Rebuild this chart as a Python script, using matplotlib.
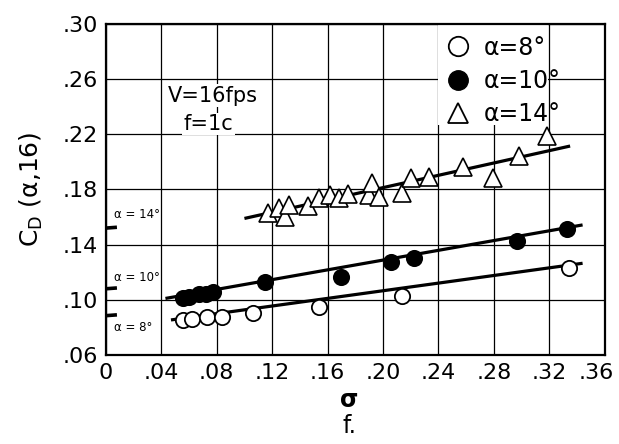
"""C_D(alpha,16) vs sigma_f at V=16 fps, f=1c -- redrawn from the scanned figure."""

import matplotlib
matplotlib.use("Agg")
import matplotlib.pyplot as plt
from matplotlib.lines import Line2D
from matplotlib.patches import Rectangle
from matplotlib.transforms import blended_transform_factory, ScaledTranslation

# --- data ---
sig_8 = [0.056, 0.062, 0.073, 0.084, 0.106, 0.154, 0.214, 0.334]
cd_8 = [0.0854, 0.0859, 0.0877, 0.0873, 0.0902, 0.0946, 0.1028, 0.1233]

sig_10 = [0.056, 0.060, 0.067, 0.072, 0.077, 0.115, 0.170, 0.206, 0.222, 0.297, 0.333]
cd_10 = [0.1015, 0.1020, 0.1040, 0.1045, 0.1058, 0.1132, 0.1168, 0.1277, 0.1300, 0.1429, 0.1512]

sig_14 = [0.117, 0.125, 0.129, 0.132, 0.146, 0.154, 0.162, 0.168, 0.175, 0.190,
          0.192, 0.197, 0.214, 0.220, 0.233, 0.258, 0.279, 0.298, 0.318]
cd_14 = [0.1632, 0.1664, 0.1603, 0.1688, 0.1680, 0.1736, 0.1760, 0.1736, 0.1767, 0.1760,
         0.1850, 0.1748, 0.1777, 0.1885, 0.1893, 0.1960, 0.1881, 0.2043, 0.2188]

# faired lines (end points)
fit_8_x, fit_8_y = [0.047, 0.344], [0.0854, 0.1265]
fit_10_x, fit_10_y = [0.043, 0.344], [0.1010, 0.1543]
fit_14_x, fit_14_y = [0.100, 0.335], [0.1590, 0.2115]

# short marks at the y axis
stub_x = [0.0, 0.008]
stub_y = {"14": 0.152, "10": 0.108, "8": 0.0885}

xticks = [0, 0.04, 0.08, 0.12, 0.16, 0.20, 0.24, 0.28, 0.32, 0.36]
xlabels = ["0", ".04", ".08", ".12", ".16", ".20", ".24", ".28", ".32", ".36"]
yticks = [0.06, 0.10, 0.14, 0.18, 0.22, 0.26, 0.30]
ylabels = [".06", ".10", ".14", ".18", ".22", ".26", ".30"]

INK = "black"

plt.rcParams.update({"font.family": "DejaVu Sans"})
fig = plt.figure(figsize=(6.19, 4.44), dpi=100)
ax = fig.add_axes([0.171, 0.2005, 0.806, 0.7455])

ax.set_xlim(0, 0.36)
ax.set_ylim(0.06, 0.30)
ax.set_xticks(xticks)
ax.set_xticklabels(xlabels)
ax.set_yticks(yticks)
ax.set_yticklabels(ylabels)
ax.tick_params(length=0, labelsize=16, pad=6, colors=INK)
ax.grid(True, color=INK, linewidth=0.9)
ax.set_axisbelow(True)
for s in ax.spines.values():
    s.set_linewidth(1.6)

# last x label sits a touch left so it stays on the page
last = ax.get_xticklabels()[-1]
last.set_transform(last.get_transform() + ScaledTranslation(-6 / 72, 0, fig.dpi_scale_trans))

# white patch where the legend covers the grid
ax.add_patch(Rectangle((0.24, 0.2265), 0.079, 0.0735, facecolor="white",
                       edgecolor="none", zorder=1))

# faired lines
for fx, fy in ((fit_8_x, fit_8_y), (fit_10_x, fit_10_y), (fit_14_x, fit_14_y)):
    ax.plot(fx, fy, color=INK, lw=2.3, zorder=2, solid_capstyle="butt")

for key in stub_y:
    ax.plot(stub_x, [stub_y[key], stub_y[key] + 0.0006], color=INK, lw=2.6,
            zorder=2, solid_capstyle="butt", clip_on=False)

ax.plot(sig_8, cd_8, "o", ms=11, mfc="white", mec=INK, mew=1.3, zorder=3)
ax.plot(sig_10, cd_10, "o", ms=11, mfc=INK, mec=INK, mew=1.3, zorder=3)
ax.plot(sig_14, cd_14, "^", ms=13, mfc="white", mec=INK, mew=1.2, zorder=3)

# small labels by the axis stubs
ax.text(0.006, 0.162, "α = 14°", fontsize=8.5, va="center", ha="left")
ax.text(0.006, 0.1165, "α = 10°", fontsize=8.5, va="center", ha="left")
ax.text(0.006, 0.080, "α = 8°", fontsize=8.5, va="center", ha="left")

ax.text(0.077, 0.248, "V=16fps", fontsize=15, ha="center", va="center",
        bbox=dict(facecolor="white", edgecolor="none", pad=1), zorder=2)
ax.text(0.074, 0.2275, "f=1c", fontsize=15, ha="center", va="center",
        bbox=dict(facecolor="white", edgecolor="none", pad=1), zorder=2)

handles = [
    Line2D([], [], ls="none", marker="o", ms=14, mfc="white", mec=INK, mew=1.3),
    Line2D([], [], ls="none", marker="o", ms=14, mfc=INK, mec=INK),
    Line2D([], [], ls="none", marker="^", ms=15, mfc="white", mec=INK, mew=1.3),
]
ax.legend(handles, ["α=8°", "α=10°", "α=14°"], loc="upper left",
          bbox_to_anchor=(0.242, 0.295), bbox_transform=ax.transData,
          frameon=False, fontsize=17, handlelength=1.0, handletextpad=0.6,
          labelspacing=0.4, borderpad=0.2, borderaxespad=0)

ax.set_ylabel(r"C$_\mathrm{D}$ (α,16)", fontsize=18, labelpad=12)

tr = blended_transform_factory(ax.transData, ax.transAxes)
ax.text(0.1755, -0.135, "σ", transform=tr, fontsize=17, ha="center", va="center",
        fontweight="bold")
ax.text(0.1755, -0.215, "f.", transform=tr, fontsize=17, ha="center", va="center")

fig.savefig("out.png", dpi=100, facecolor="white")
